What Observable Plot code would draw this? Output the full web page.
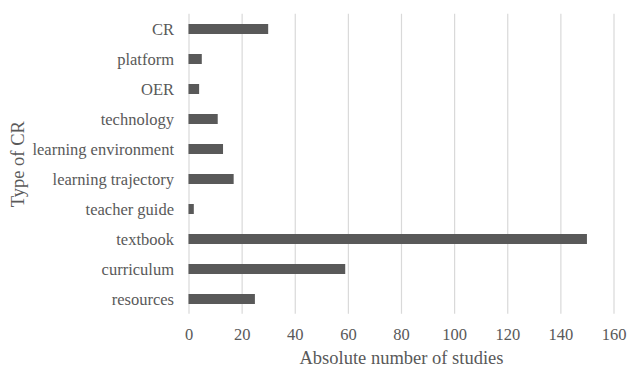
<!DOCTYPE html>
<html>
<head>
<meta charset="utf-8">
<script src="https://cdn.jsdelivr.net/npm/d3@7"></script>
<script src="https://cdn.jsdelivr.net/npm/@observablehq/plot@0.6"></script>
<style>
  html, body { margin: 0; padding: 0; background: #fff; }
  #chart svg { display: block; }
  #chart svg, #chart svg text, #chart svg g { font-family: "Liberation Serif", "Times New Roman", serif !important; }
</style>
</head>
<body>
<div id="chart"></div>
<script>
const categories = ["CR", "platform", "OER", "technology", "learning environment", "learning trajectory", "teacher guide", "textbook", "curriculum", "resources"];
const counts = [30, 5, 4, 11, 13, 17, 2, 150, 59, 25];
const xTicks = [0, 20, 40, 60, 80, 100, 120, 140, 160];
const xTitle = "Absolute number of studies";
const yTitle = "Type of CR";

const data = categories.map((c, i) => ({type: c, n: counts[i]}));
const font = "Liberation Serif";
const ink = "#595959";

const chart = Plot.plot({
  width: 627,
  height: 367,
  marginLeft: 188.5,
  marginRight: 13.5,
  marginTop: 13.7,
  marginBottom: 53.3,
  style: {fontFamily: font, fontSize: "16.5px", color: ink, background: "#fff"},
  x: {domain: [0, 160], ticks: xTicks},
  y: {domain: categories, paddingInner: 0.667, paddingOuter: 0.333},
  marks: [
    Plot.gridX(xTicks, {stroke: "#d9d9d9", strokeOpacity: 1, strokeWidth: 1.2}),
    Plot.barX(data, {x: "n", y: "type", fill: "#595959"}),
    Plot.axisX({ticks: xTicks, tickSize: 0, tickPadding: 14, label: null, fill: ink, fontSize: 16.5, fontFamily: font}),
    Plot.axisY({tickSize: 0, tickPadding: 15, label: null, fill: ink, fontSize: 16.5, fontFamily: font}),
    Plot.text([xTitle], {frameAnchor: "bottom", dy: 43.5, fontSize: 18.5, fill: ink, lineAnchor: "middle", fontFamily: font}),
    Plot.text([yTitle], {frameAnchor: "left", dx: -170.5, rotate: -90, textAnchor: "middle", fontSize: 18.5, fill: ink, lineAnchor: "middle", fontFamily: font})
  ]
});
document.getElementById("chart").append(chart);
</script>
</body>
</html>
